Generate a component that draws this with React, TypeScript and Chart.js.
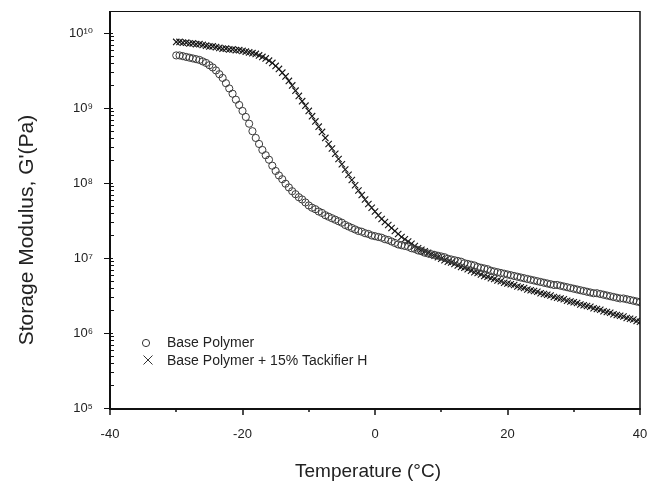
import React, { useEffect, useRef } from "react";
import { Chart, registerables } from "chart.js";

Chart.register(...registerables);

// Temperature (°C) sampling of both measurements
const temperatures: number[] = [
  -30, -29.5, -29, -28.5, -28, -27.5, -27, -26.5, -26, -25.5,
  -25, -24.5, -24, -23.5, -23, -22.5, -22, -21.5, -21, -20.5,
  -20, -19.5, -19, -18.5, -18, -17.5, -17, -16.5, -16, -15.5,
  -15, -14.5, -14, -13.5, -13, -12.5, -12, -11.5, -11, -10.5,
  -10, -9.5, -9, -8.5, -8, -7.5, -7, -6.5, -6, -5.5,
  -5, -4.5, -4, -3.5, -3, -2.5, -2, -1.5, -1, -0.5,
  0, 0.5, 1, 1.5, 2, 2.5, 3, 3.5, 4, 4.5,
  5, 5.5, 6, 6.5, 7, 7.5, 8, 8.5, 9, 9.5,
  10, 10.5, 11, 11.5, 12, 12.5, 13, 13.5, 14, 14.5,
  15, 15.5, 16, 16.5, 17, 17.5, 18, 18.5, 19, 19.5,
  20, 20.5, 21, 21.5, 22, 22.5, 23, 23.5, 24, 24.5,
  25, 25.5, 26, 26.5, 27, 27.5, 28, 28.5, 29, 29.5,
  30, 30.5, 31, 31.5, 32, 32.5, 33, 33.5, 34, 34.5,
  35, 35.5, 36, 36.5, 37, 37.5, 38, 38.5, 39, 39.5,
  40,
];

// log10 of G' (Pa), Base Polymer
const basePolymerLogG: number[] = [
  9.70, 9.70, 9.69, 9.68, 9.67, 9.66, 9.65, 9.64, 9.62, 9.60,
  9.57, 9.54, 9.50, 9.45, 9.40, 9.33, 9.26, 9.19, 9.11, 9.04,
  8.96, 8.88, 8.79, 8.69, 8.60, 8.52, 8.44, 8.37, 8.31, 8.23,
  8.16, 8.10, 8.05, 7.99, 7.94, 7.89, 7.85, 7.81, 7.78, 7.74,
  7.70, 7.67, 7.65, 7.62, 7.60, 7.57, 7.55, 7.53, 7.51, 7.49,
  7.47, 7.44, 7.42, 7.40, 7.38, 7.36, 7.35, 7.33, 7.32, 7.30,
  7.29, 7.28, 7.27, 7.25, 7.24, 7.22, 7.20, 7.18, 7.17, 7.16,
  7.15, 7.13, 7.12, 7.10, 7.09, 7.07, 7.06, 7.05, 7.04, 7.03,
  7.02, 7.01, 6.99, 6.98, 6.97, 6.96, 6.95, 6.93, 6.92, 6.91,
  6.90, 6.88, 6.87, 6.86, 6.85, 6.83, 6.82, 6.81, 6.80, 6.79,
  6.78, 6.77, 6.76, 6.75, 6.74, 6.73, 6.72, 6.71, 6.70, 6.69,
  6.68, 6.67, 6.66, 6.65, 6.64, 6.64, 6.63, 6.62, 6.61, 6.60,
  6.59, 6.58, 6.57, 6.56, 6.55, 6.54, 6.53, 6.53, 6.52, 6.51,
  6.50, 6.49, 6.48, 6.47, 6.46, 6.46, 6.45, 6.44, 6.43, 6.42,
  6.41,
];

// log10 of G' (Pa), Base Polymer + 15% Tackifier H
const tackifierLogG: number[] = [
  9.88, 9.88, 9.87, 9.87, 9.86, 9.86, 9.85, 9.85, 9.84, 9.83,
  9.82, 9.82, 9.81, 9.80, 9.79, 9.79, 9.78, 9.78, 9.77, 9.77,
  9.76, 9.75, 9.74, 9.73, 9.72, 9.70, 9.68, 9.66, 9.63, 9.60,
  9.56, 9.52, 9.47, 9.42, 9.36, 9.30, 9.23, 9.16, 9.09, 9.03,
  8.96, 8.89, 8.82, 8.75, 8.68, 8.60, 8.52, 8.46, 8.39, 8.32,
  8.25, 8.18, 8.11, 8.04, 7.97, 7.90, 7.84, 7.78, 7.72, 7.67,
  7.62, 7.57, 7.52, 7.48, 7.44, 7.40, 7.36, 7.32, 7.28, 7.25,
  7.22, 7.19, 7.16, 7.13, 7.11, 7.09, 7.07, 7.05, 7.03, 7.01,
  6.99, 6.97, 6.95, 6.94, 6.92, 6.90, 6.88, 6.87, 6.85, 6.83,
  6.81, 6.80, 6.78, 6.76, 6.75, 6.73, 6.72, 6.70, 6.69, 6.67,
  6.66, 6.65, 6.64, 6.62, 6.61, 6.60, 6.58, 6.57, 6.56, 6.55,
  6.53, 6.52, 6.51, 6.50, 6.48, 6.47, 6.46, 6.45, 6.43, 6.42,
  6.41, 6.40, 6.38, 6.37, 6.36, 6.35, 6.33, 6.32, 6.31, 6.29,
  6.28, 6.27, 6.25, 6.24, 6.23, 6.22, 6.20, 6.19, 6.18, 6.16,
  6.15,
];

const seriesLabels = ["Base Polymer", "Base Polymer + 15% Tackifier H"];
const xMajorTicks = [-40, -20, 0, 20, 40];
const xMinorTicks = [-30, -10, 10, 30];
const xTitle = "Temperature (°C)";
const yTitle = "Storage Modulus, G'(Pa)";
const yMin = 1e5;
const yMax = 1.96e10;

const FONT = "'Liberation Sans', Arial, 'DejaVu Sans', sans-serif";
const INK = "#222";

const SUP: Record<string, string> = {
  "0": "⁰", "1": "¹", "2": "²", "3": "³", "4": "⁴",
  "5": "⁵", "6": "⁶", "7": "⁷", "8": "⁸", "9": "⁹", "-": "⁻",
};
const powLabel = (e: number) =>
  "10" + String(e).split("").map((c) => SUP[c] || c).join("");

const decorPlugin = {
  id: "decor",
  afterDatasetsDraw(chart: any) {
    const { ctx, chartArea, scales } = chart;
    const { left, right, top, bottom } = chartArea;
    const xs = scales.x;
    const ys = scales.y;
    ctx.save();
    ctx.strokeStyle = "#111";
    // frame
    ctx.lineWidth = 1;
    ctx.beginPath();
    ctx.moveTo(left, top + 0.5);
    ctx.lineTo(right, top + 0.5);
    ctx.stroke();
    ctx.lineWidth = 1.5;
    ctx.beginPath();
    ctx.moveTo(right, top);
    ctx.lineTo(right, bottom);
    ctx.stroke();
    ctx.lineWidth = 2;
    ctx.beginPath();
    ctx.moveTo(left, top);
    ctx.lineTo(left, bottom + 1);
    ctx.lineTo(right + 0.75, bottom + 1);
    ctx.stroke();
    // x ticks
    ctx.lineWidth = 1.5;
    xMajorTicks.forEach((v) => {
      const px = Math.round(xs.getPixelForValue(v));
      ctx.beginPath();
      ctx.moveTo(px, bottom);
      ctx.lineTo(px, bottom + 7);
      ctx.stroke();
    });
    xMinorTicks.forEach((v) => {
      const px = Math.round(xs.getPixelForValue(v));
      ctx.beginPath();
      ctx.moveTo(px, bottom);
      ctx.lineTo(px, bottom + 4);
      ctx.stroke();
    });
    // y ticks
    ys.ticks.forEach((t: any) => {
      const v = t.value;
      const e = Math.floor(Math.log10(v) + 1e-9);
      const m = v / Math.pow(10, e);
      if (Math.abs(m - Math.round(m)) > 1e-6) return;
      const py = Math.round(ys.getPixelForValue(v)) + 0.5;
      ctx.lineWidth = 1;
      ctx.beginPath();
      if (Math.round(m) === 1) {
        ctx.moveTo(left - 6, py);
        ctx.lineTo(left + 3, py);
      } else {
        ctx.moveTo(left, py);
        ctx.lineTo(left + 4, py);
      }
      ctx.stroke();
    });
    ctx.restore();
  },
  afterDraw(chart: any) {
    const { ctx, chartArea } = chart;
    const { left, bottom } = chartArea;
    ctx.save();
    ctx.fillStyle = INK;
    ctx.strokeStyle = "#333";
    // axis titles
    ctx.font = `19px ${FONT}`;
    ctx.textAlign = "center";
    ctx.textBaseline = "alphabetic";
    ctx.fillText(xTitle, 368, 477);
    ctx.save();
    ctx.translate(33, 230);
    ctx.rotate(-Math.PI / 2);
    ctx.font = `21px ${FONT}`;
    ctx.fillText(yTitle, 0, 0);
    ctx.restore();
    // legend
    const lx = left + 36;
    const y1 = bottom - 65;
    const y2 = bottom - 48;
    ctx.lineWidth = 1;
    ctx.beginPath();
    ctx.arc(lx, y1, 3.6, 0, Math.PI * 2);
    ctx.stroke();
    ctx.beginPath();
    ctx.moveTo(lx - 4.5 + 2, y2 - 4.5);
    ctx.lineTo(lx + 4.5 + 2, y2 + 4.5);
    ctx.moveTo(lx + 4.5 + 2, y2 - 4.5);
    ctx.lineTo(lx - 4.5 + 2, y2 + 4.5);
    ctx.stroke();
    ctx.font = `14px ${FONT}`;
    ctx.textAlign = "left";
    ctx.textBaseline = "middle";
    ctx.fillText(seriesLabels[0], lx + 21, y1);
    ctx.fillText(seriesLabels[1], lx + 21, y2 + 1);
    ctx.restore();
  },
};

export default function App() {
  const canvasRef = useRef<HTMLCanvasElement | null>(null);

  useEffect(() => {
    const canvas = canvasRef.current;
    if (!canvas) return;
    const basePoints = temperatures.map((t, i) => ({ x: t, y: Math.pow(10, basePolymerLogG[i]) }));
    const tackPoints = temperatures.map((t, i) => ({ x: t, y: Math.pow(10, tackifierLogG[i]) }));
    const chart = new Chart(canvas, {
      type: "scatter",
      data: {
        datasets: [
          {
            label: seriesLabels[0],
            data: basePoints,
            showLine: false,
            pointStyle: "circle",
            pointRadius: 3.6,
            borderWidth: 1,
            borderColor: "#3a3a3a",
            backgroundColor: "rgba(0,0,0,0)",
          },
          {
            label: seriesLabels[1],
            data: tackPoints,
            showLine: false,
            pointStyle: "crossRot",
            pointRadius: 4.5,
            borderWidth: 1.1,
            borderColor: "#151515",
            backgroundColor: "#151515",
          },
        ],
      },
      plugins: [decorPlugin],
      options: {
        responsive: false,
        animation: false,
        events: [],
        layout: { padding: { left: 0, right: 7, top: 11, bottom: 0 } },
        plugins: {
          legend: { display: false },
          tooltip: { enabled: false },
        },
        scales: {
          x: {
            type: "linear",
            min: -40,
            max: 40,
            grid: { display: false },
            border: { display: false },
            ticks: {
              stepSize: 20,
              padding: 11,
              color: INK,
              font: { family: FONT, size: 13 },
              maxRotation: 0,
            },
            afterFit(scale: any) {
              scale.height = 74;
              scale.paddingLeft = 0;
              scale.paddingRight = 0;
            },
          },
          y: {
            type: "logarithmic",
            min: yMin,
            max: yMax,
            grid: { display: false },
            border: { display: false },
            ticks: {
              autoSkip: false,
              padding: 9,
              color: INK,
              font: { family: FONT, size: 13 },
              callback: (value: any) => {
                const v = Number(value);
                const e = Math.log10(v);
                if (Math.abs(e - Math.round(e)) < 1e-6) return powLabel(Math.round(e));
                return "";
              },
            },
            afterFit(scale: any) {
              scale.width = 110;
              scale.paddingTop = 0;
              scale.paddingBottom = 0;
            },
          },
        },
      } as any,
    });
    return () => chart.destroy();
  }, []);

  return (
    <div style={{ position: "absolute", left: 0, top: 0, width: 647, height: 482, background: "#fff" }}>
      <canvas ref={canvasRef} width={647} height={482} style={{ display: "block" }} />
    </div>
  );
}
